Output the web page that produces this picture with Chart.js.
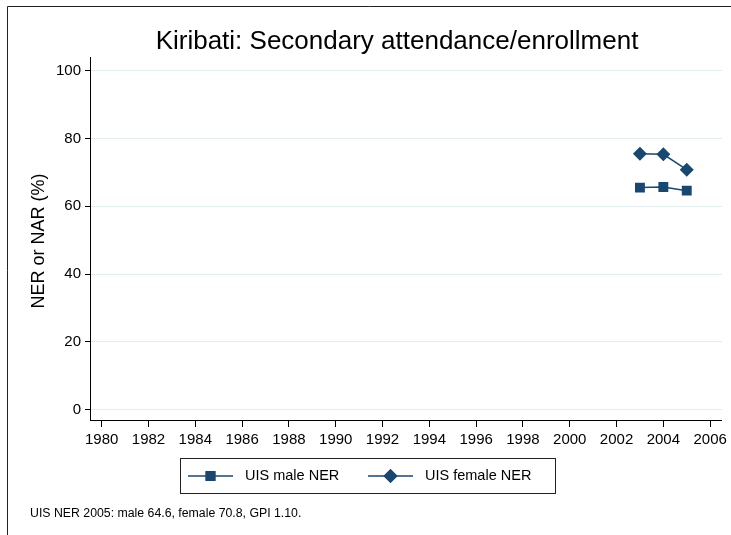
<!DOCTYPE html>
<html lang="en">
<head>
    <meta charset="UTF-8">
    <title>Kiribati: Secondary attendance/enrollment</title>
    <script src="https://cdn.jsdelivr.net/npm/chart.js"></script>
    <style>
        body {
            margin: 0;
            padding: 0;
            background: #fff;
        }
        .wrap {
            position: relative;
            width: 731px;
            height: 535px;
        }
    </style>
</head>
<body>
    <div class="wrap">
        <canvas id="nerChart" width="731" height="535"></canvas>
    </div>

    <script>
        // data
        const years = [2003, 2004, 2005];
        const maleNER = [65.5, 65.7, 64.6];
        const femaleNER = [75.5, 75.3, 70.8];
        const xTicks = [1980, 1982, 1984, 1986, 1988, 1990, 1992, 1994, 1996, 1998, 2000, 2002, 2004, 2006];
        const yTicks = [0, 20, 40, 60, 80, 100];

        const navy = '#1a476f';
        const font = "'Liberation Sans', Arial, sans-serif";

        // title, axis title, legend box, note, outer frame
        const extras = {
            id: 'extras',
            afterDraw(chart) {
                const c = chart.ctx;
                c.save();
                // frame
                c.strokeStyle = '#222';
                c.lineWidth = 1;
                c.beginPath();
                c.moveTo(7.5, 535);
                c.lineTo(7.5, 6.5);
                c.lineTo(731, 6.5);
                c.stroke();

                c.fillStyle = '#000';
                c.textBaseline = 'middle';
                c.textAlign = 'center';
                c.font = '26px ' + font;
                c.fillText('Kiribati: Secondary attendance/enrollment', 397, 42);

                c.save();
                c.translate(39, 241);
                c.rotate(-Math.PI / 2);
                c.font = '18px ' + font;
                c.fillText('NER or NAR (%)', 0, 0);
                c.restore();

                // legend
                c.strokeStyle = '#222';
                c.strokeRect(180.5, 458.5, 375, 35);
                const items = [
                    { x: 188, label: 'UIS male NER', style: 'rect' },
                    { x: 368, label: 'UIS female NER', style: 'rectRot' }
                ];
                c.textAlign = 'left';
                c.font = '14.5px ' + font;
                items.forEach(it => {
                    c.strokeStyle = navy;
                    c.lineWidth = 1.5;
                    c.beginPath();
                    c.moveTo(it.x, 476);
                    c.lineTo(it.x + 45, 476);
                    c.stroke();
                    c.fillStyle = navy;
                    Chart.helpers.drawPoint(c, { pointStyle: it.style, radius: 7, borderWidth: 0 }, it.x + 22.5, 476);
                    c.fill();
                    c.fillStyle = '#000';
                    c.fillText(it.label, it.x + 57, 476);
                });

                c.font = '12.3px ' + font;
                c.fillText('UIS NER 2005: male 64.6, female 70.8, GPI 1.10.', 30, 514);
                c.restore();
            }
        };

        const ctx = document.getElementById('nerChart').getContext('2d');
        const nerChart = new Chart(ctx, {
            type: 'line',
            data: {
                labels: years,
                datasets: [{
                    label: 'UIS male NER',
                    data: years.map((y, i) => ({ x: y, y: maleNER[i] })),
                    borderColor: navy,
                    backgroundColor: navy,
                    borderWidth: 1.5,
                    pointStyle: 'rect',
                    pointRadius: 7,
                    pointBorderWidth: 0
                }, {
                    label: 'UIS female NER',
                    data: years.map((y, i) => ({ x: y, y: femaleNER[i] })),
                    borderColor: navy,
                    backgroundColor: navy,
                    borderWidth: 1.5,
                    pointStyle: 'rectRot',
                    pointRadius: 7,
                    pointBorderWidth: 0
                }]
            },
            options: {
                responsive: false,
                animation: false,
                layout: {
                    padding: { top: 57, right: 9, left: 0, bottom: 0 }
                },
                plugins: {
                    legend: { display: false },
                    title: { display: false },
                    tooltip: { enabled: false }
                },
                scales: {
                    x: {
                        type: 'linear',
                        min: 1979.5,
                        max: 2006.5,
                        afterBuildTicks: s => { s.ticks = xTicks.map(v => ({ value: v })); },
                        afterFit: s => { s.height = 115; },
                        border: { color: '#000', width: 1 },
                        grid: { drawOnChartArea: false, tickColor: '#000', tickLength: 7 },
                        ticks: {
                            color: '#000',
                            font: { family: font, size: 15 },
                            padding: 4,
                            maxRotation: 0,
                            autoSkip: false,
                            callback: v => String(v)
                        }
                    },
                    y: {
                        min: -3,
                        max: 104,
                        afterBuildTicks: s => { s.ticks = yTicks.map(v => ({ value: v })); },
                        afterFit: s => { s.width = 90; },
                        border: { color: '#000', width: 1 },
                        grid: { color: '#e3ecee', tickColor: '#000', tickLength: 5, lineWidth: 1 },
                        ticks: {
                            color: '#000',
                            font: { family: font, size: 15 },
                            padding: 4
                        }
                    }
                }
            },
            plugins: [extras]
        });
    </script>
</body>
</html>
